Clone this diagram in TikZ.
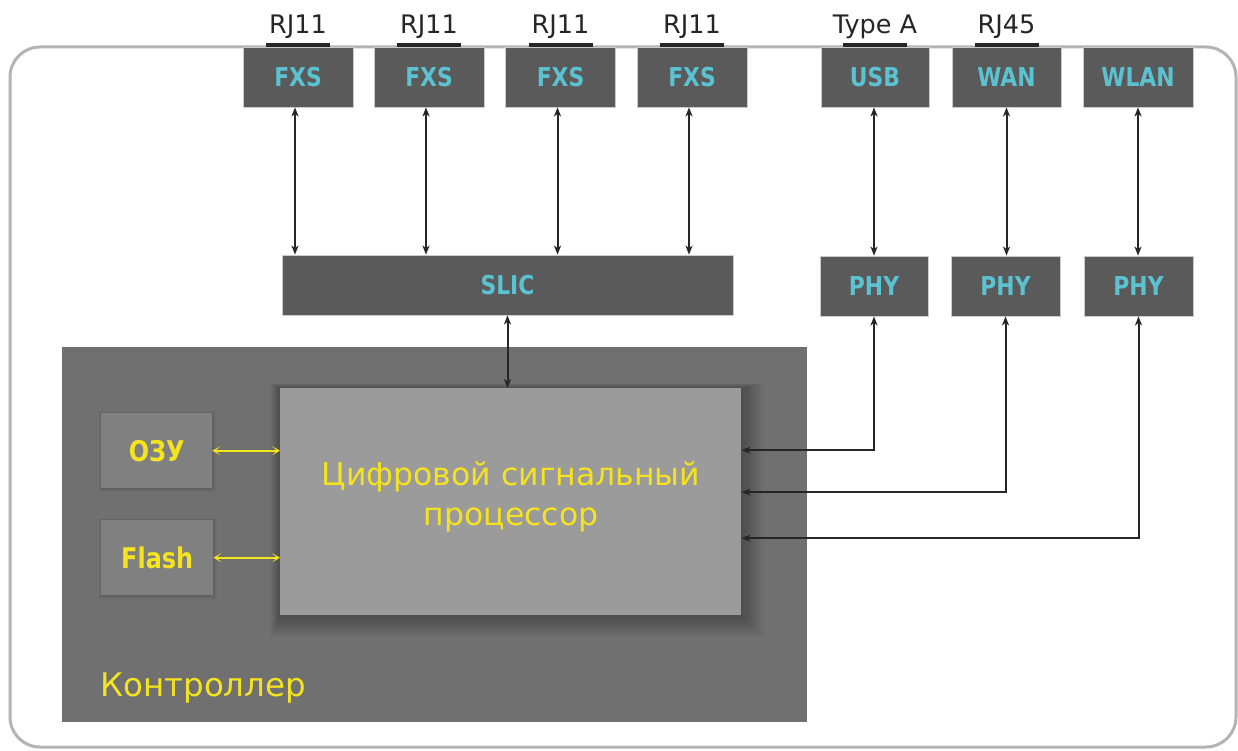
\documentclass[tikz,border=0pt]{standalone}
\usepackage{fontspec}
\setmainfont{DejaVu Sans}
\newfontfamily\lblfont[FakeStretch=0.84,BoldFont={DejaVu Sans Bold}]{DejaVu Sans}
\usetikzlibrary{arrows.meta,calc}
\definecolor{boxdark}{HTML}{5A5A5A}
\definecolor{ctrlgray}{HTML}{707070}
\definecolor{dspgray}{HTML}{9B9B9B}
\definecolor{memgray}{HTML}{808080}
\definecolor{cyanlbl}{HTML}{5BC2D2}
\definecolor{yellowlbl}{HTML}{F4E31E}
\definecolor{framegray}{HTML}{B4B4B4}
\tikzset{
  port/.style={draw=framegray!70, line width=0.8pt, fill=boxdark, minimum height=60pt,
    font=\lblfont\bfseries\fontsize{26}{28}\selectfont, text=cyanlbl, inner sep=0pt},
  mem/.style={fill=memgray, minimum height=75pt, minimum width=111pt,
    font=\lblfont\bfseries\fontsize{28.5}{30}\selectfont, text=yellowlbl, inner sep=0pt},
  toplbl/.style={font=\fontsize{25.5}{27}\selectfont, text=black!85, inner sep=0pt},
  dbl/.style={line width=2pt, draw=black!85, {Stealth[length=9pt,width=7pt,inset=2.5pt]}-{Stealth[length=9pt,width=7pt,inset=2.5pt]}},
  ydbl/.style={line width=1.8pt, draw=yellowlbl, {Stealth[length=8pt,width=9pt,inset=5pt]}-{Stealth[length=8pt,width=9pt,inset=5pt]}},
}
\begin{document}
\begin{tikzpicture}[x=1pt,y=-1pt]
\useasboundingbox (0,0) rectangle (1238,751);
\fill[white] (0,0) rectangle (1238,751);
% outer frame
\draw[framegray, line width=3pt, rounded corners=30pt] (10,47) rectangle (1236,747);
% controller
\node[fill=ctrlgray, minimum width=745pt, minimum height=375pt, inner sep=0pt, anchor=north west] (ctrl) at (62,347) {};
% dsp shadow
\foreach \i in {1,...,12}{
  \fill[black, opacity=0.022] ({280-\i*0.8},{388-\i*0.4}) rectangle ({741+\i*1.9},{615+\i*1.9});
}
\foreach \i in {1,...,4}{
  \fill[black, opacity=0.035] ({101-\i*0.5},{413-\i*0.3}) rectangle ({212+\i*1},{488+\i*1});
  \fill[black, opacity=0.035] ({101-\i*0.5},{520-\i*0.3}) rectangle ({213+\i*1},{595+\i*1});
}
\node[fill=dspgray, minimum width=461pt, minimum height=227pt, inner sep=0pt, anchor=north west] (dsp) at (280,388) {};
\node[text=yellowlbl, font=\fontsize{31.5}{40}\selectfont, align=center, inner sep=0pt] (dsptext) at (511,497) {Цифровой сигнальный\\процессор};
\node[mem, anchor=north west] (ram) at (101,413) {ОЗУ};
\node[mem, anchor=north west, minimum width=112pt] (flash) at (101,520) {Flash};
\node[text=yellowlbl, font=\fontsize{32.5}{34}\selectfont, anchor=west, inner sep=0pt] (ctrllbl) at (100,688) {Контроллер};
% top ports
\node[port, minimum width=110pt] (fxs1) at (298,77) {FXS};
\node[port, minimum width=110pt] (fxs2) at (429,77) {FXS};
\node[port, minimum width=110pt] (fxs3) at (560.5,77) {FXS};
\node[port, minimum width=110pt] (fxs4) at (692,77) {FXS};
\node[port, minimum width=108pt] (usb) at (875,77) {USB};
\node[port, minimum width=109pt] (wan) at (1006.5,77) {WAN};
\node[port, minimum width=110pt] (wlan) at (1138,77) {WLAN};
% connector bars and labels
\foreach \n/\t in {fxs1/RJ11,fxs2/RJ11,fxs3/RJ11,fxs4/RJ11,usb/Type A,wan/RJ45}{
  \fill[black!85] ([xshift=-32pt]\n.north) rectangle ([xshift=32pt,yshift=4pt]\n.north);
  \node[toplbl] (\n lbl) at ([yshift=20pt]\n.north) {\t};
}
% SLIC and PHY
\node[port, minimum width=451pt] (slic) at (507.5,285) {SLIC};
\node[port, minimum width=108pt] (phy1) at (874,286) {PHY};
\node[port, minimum width=109pt] (phy2) at (1005.5,286) {PHY};
\node[port, minimum width=109pt] (phy3) at (1138.5,286) {PHY};
% connectors
\foreach \n in {fxs1,fxs2,fxs3,fxs4}{
  \draw[dbl] ([xshift=-3pt]\n.south) -- ([xshift=-3pt]\n.south |- slic.north);
}
\draw[dbl] ([xshift=-1pt]usb.south) -- ([xshift=-1pt]usb.south |- phy1.north);
\draw[dbl] (wan.south) -- (wan.south |- phy2.north);
\draw[dbl] (wlan.south) -- (wlan.south |- phy3.north);
\draw[dbl] (slic.south) -- (slic.south |- dsp.north);
\draw[dbl] (phy1.south) |- ([yshift=51.5pt]dsp.east);
\draw[dbl] (phy2.south) |- ([yshift=9.5pt]dsp.east);
\draw[dbl] (phy3.south) |- ([yshift=-36.5pt]dsp.east);
\draw[ydbl] (ram.east) -- (ram.east -| dsp.west);
\draw[ydbl] (flash.east) -- (flash.east -| dsp.west);
\end{tikzpicture}
\end{document}
